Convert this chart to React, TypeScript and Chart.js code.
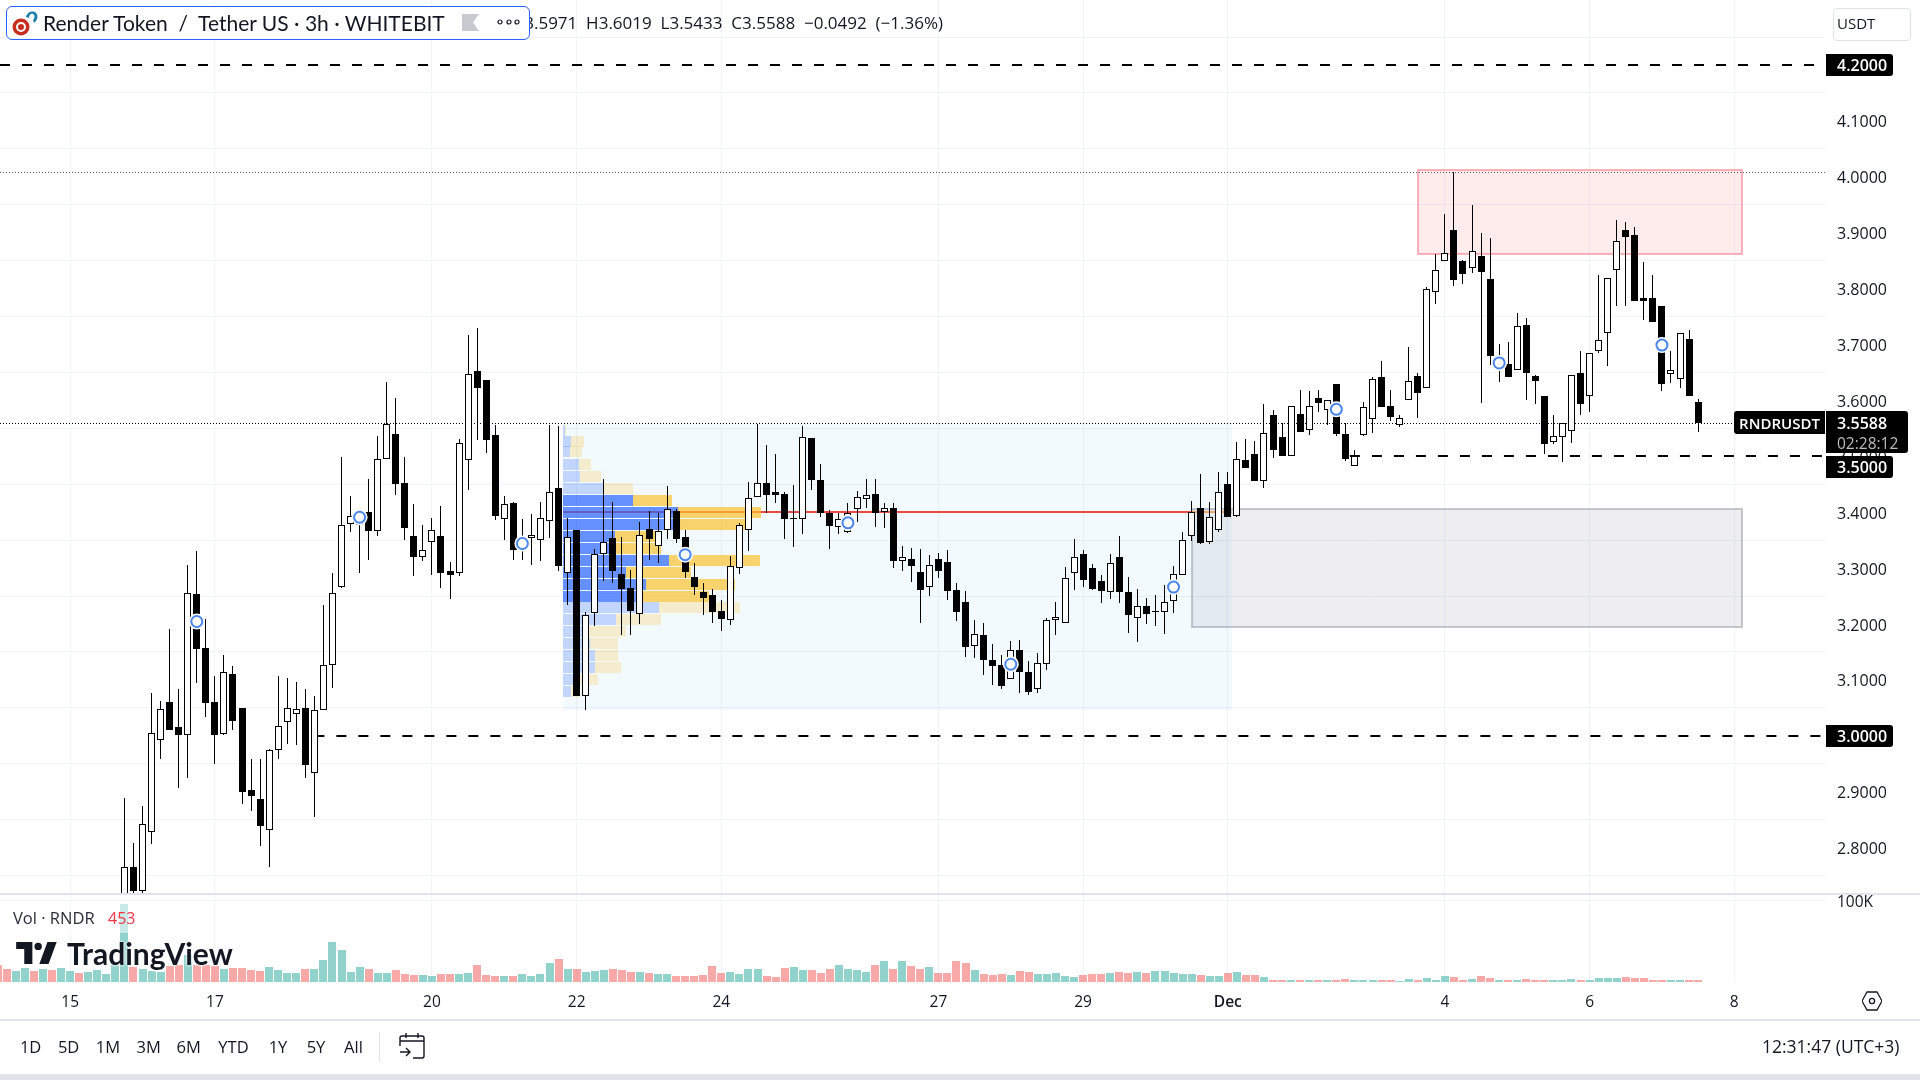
import React, { useEffect, useRef } from "react";
import { Chart, registerables } from "chart.js";

Chart.register(...registerables);

const FONT = '"Open Sans", sans-serif';
const TITLE_FONT = 'Lato, "Open Sans", sans-serif';

// index of the first candle that is visible, counted in 3h bars from 15 Nov 00:00
const firstCandle = 6;
const firstVolume = -8;

const opens = [
  2.690,2.765,2.723,2.828,2.992,3.061,3.016,3.001,3.253,3.157,
  3.061,3.004,3.111,3.050,2.903,2.887,2.831,2.974,3.024,3.039,
  3.050,2.933,3.046,3.126,3.267,3.378,3.377,3.400,3.367,3.496,
  3.540,3.452,3.357,3.319,3.347,3.357,3.295,3.291,3.493,3.653,
  3.637,3.538,3.387,3.417,3.335,3.354,3.350,3.384,3.443,3.291,
  3.368,3.072,3.219,3.325,3.354,3.290,3.264,3.217,3.370,3.340,
  3.369,3.402,3.356,3.284,3.257,3.252,3.223,3.208,3.301,3.369,
  3.427,3.452,3.436,3.433,3.389,3.388,3.533,3.458,3.399,3.373,
  3.365,3.405,3.423,3.433,3.400,3.408,3.312,3.316,3.293,3.266,
  3.316,3.311,3.261,3.239,3.160,3.180,3.136,3.127,3.102,3.154,
  3.114,3.083,3.129,3.208,3.201,3.292,3.326,3.300,3.277,3.258,
  3.320,3.258,3.211,3.232,3.223,3.222,3.242,3.288,3.358,3.407,
  3.347,3.369,3.451,3.394,3.493,3.504,3.455,3.573,3.535,3.500,
  3.576,3.547,3.605,3.583,3.630,3.540,3.483,3.538,3.567,3.642,
  3.590,3.556,3.601,3.644,3.622,3.794,3.849,3.904,3.850,3.837,
  3.858,3.818,3.658,3.666,3.654,3.734,3.644,3.608,3.525,3.534,
  3.545,3.649,3.607,3.688,3.720,3.834,3.905,3.895,3.784,3.784,
  3.768,3.647,3.639,3.709,3.5971,
];
const highs = [
  2.888,2.808,2.875,3.077,3.063,3.191,3.084,3.306,3.330,3.209,
  3.107,3.144,3.125,3.050,2.959,2.959,2.977,3.107,3.104,3.097,
  3.084,3.072,3.234,3.292,3.499,3.429,3.404,3.459,3.536,3.633,
  3.604,3.499,3.415,3.377,3.390,3.411,3.311,3.531,3.717,3.730,
  3.637,3.556,3.429,3.418,3.388,3.397,3.418,3.556,3.554,3.389,
  3.368,3.222,3.334,3.459,3.418,3.356,3.297,3.383,3.402,3.399,
  3.447,3.406,3.368,3.309,3.273,3.263,3.243,3.322,3.381,3.454,
  3.558,3.520,3.504,3.436,3.449,3.554,3.533,3.486,3.404,3.399,
  3.417,3.438,3.459,3.459,3.417,3.417,3.340,3.336,3.334,3.323,
  3.327,3.332,3.273,3.259,3.208,3.202,3.165,3.145,3.170,3.171,
  3.134,3.148,3.211,3.239,3.302,3.352,3.332,3.307,3.288,3.326,
  3.357,3.284,3.263,3.247,3.252,3.270,3.304,3.365,3.420,3.468,
  3.418,3.472,3.472,3.526,3.531,3.527,3.594,3.583,3.560,3.590,
  3.619,3.616,3.619,3.601,3.630,3.560,3.511,3.598,3.642,3.671,
  3.619,3.574,3.696,3.649,3.802,3.862,3.934,4.008,3.852,3.950,
  3.900,3.891,3.701,3.705,3.757,3.748,3.646,3.608,3.574,3.559,
  3.645,3.689,3.685,3.825,3.819,3.923,3.920,3.911,3.848,3.825,
  3.768,3.689,3.720,3.726,3.6019,
];
const lows = [
  2.660,2.700,2.710,2.807,2.959,3.010,2.906,2.924,3.095,3.033,
  2.949,3.002,3.011,2.878,2.866,2.803,2.766,2.959,2.986,2.984,
  2.924,2.854,3.046,3.085,3.265,3.365,3.292,3.315,3.357,3.496,
  3.430,3.351,3.285,3.312,3.288,3.265,3.244,3.285,3.439,3.529,
  3.506,3.386,3.350,3.315,3.315,3.306,3.312,3.353,3.294,3.234,
  3.072,3.046,3.197,3.277,3.273,3.180,3.180,3.200,3.315,3.309,
  3.352,3.345,3.282,3.252,3.216,3.202,3.188,3.198,3.290,3.331,
  3.427,3.399,3.417,3.352,3.337,3.361,3.440,3.391,3.334,3.361,
  3.362,3.383,3.408,3.374,3.372,3.300,3.295,3.275,3.202,3.250,
  3.282,3.243,3.205,3.141,3.140,3.109,3.091,3.084,3.102,3.077,
  3.073,3.077,3.118,3.180,3.201,3.261,3.266,3.261,3.238,3.245,
  3.238,3.184,3.168,3.200,3.196,3.182,3.220,3.288,3.349,3.343,
  3.343,3.365,3.391,3.391,3.479,3.456,3.444,3.497,3.500,3.500,
  3.543,3.539,3.580,3.556,3.537,3.491,3.483,3.536,3.542,3.589,
  3.564,3.553,3.601,3.568,3.622,3.773,3.849,3.805,3.809,3.828,
  3.596,3.664,3.633,3.641,3.654,3.601,3.594,3.505,3.522,3.490,
  3.524,3.574,3.580,3.685,3.662,3.769,3.768,3.777,3.744,3.741,
  3.617,3.632,3.623,3.607,3.5433,
];
const closes = [
  2.765,2.723,2.842,3.005,3.048,3.010,3.001,3.255,3.156,3.058,
  3.002,3.114,3.027,2.899,2.893,2.838,2.974,3.017,3.049,3.048,
  2.947,3.046,3.126,3.256,3.377,3.393,3.401,3.367,3.496,3.557,
  3.451,3.372,3.320,3.332,3.369,3.292,3.288,3.523,3.648,3.623,
  3.530,3.394,3.414,3.333,3.352,3.360,3.389,3.436,3.303,3.355,
  3.072,3.216,3.325,3.346,3.295,3.263,3.223,3.360,3.352,3.366,
  3.405,3.352,3.293,3.266,3.247,3.222,3.209,3.303,3.377,3.425,
  3.452,3.431,3.431,3.388,3.389,3.534,3.458,3.399,3.375,3.387,
  3.398,3.427,3.430,3.399,3.407,3.312,3.319,3.304,3.261,3.305,
  3.295,3.259,3.222,3.159,3.182,3.136,3.125,3.089,3.153,3.114,
  3.078,3.130,3.208,3.212,3.282,3.319,3.279,3.263,3.259,3.310,
  3.257,3.216,3.233,3.218,3.223,3.239,3.289,3.350,3.400,3.345,
  3.391,3.437,3.391,3.495,3.479,3.456,3.542,3.511,3.500,3.590,
  3.543,3.590,3.596,3.601,3.540,3.496,3.500,3.588,3.638,3.589,
  3.571,3.568,3.635,3.613,3.799,3.833,3.864,3.815,3.827,3.867,
  3.829,3.679,3.676,3.641,3.733,3.649,3.635,3.522,3.536,3.559,
  3.645,3.594,3.685,3.708,3.819,3.885,3.893,3.777,3.778,3.741,
  3.630,3.654,3.720,3.607,3.5588,
];

// volume in thousands, from index -8 to 180
const volumes = [
  20.5,15.6,13.1,16.8,13.1,15.6,14.3,16.8,13.1,10.7,11.9,14.3,9.4,20.5,
  95.5,18.0,15.6,13.1,11.9,19.3,20.5,32.8,20.5,20.5,19.3,15.6,16.8,16.8,14.3,13.1,
  18.0,14.3,10.7,10.7,15.6,15.6,26.6,48.8,38.9,11.9,18.0,15.6,10.7,10.7,14.3,9.4,
  8.2,8.2,7.0,9.4,9.4,9.4,10.7,20.5,8.2,7.0,7.0,7.0,9.4,7.0,9.4,23.0,27.9,15.6,
  15.6,11.9,13.1,14.3,15.6,14.3,11.9,11.9,10.7,9.4,9.4,7.0,7.0,7.0,8.2,19.3,10.7,
  11.9,9.4,15.6,15.6,7.0,5.7,16.8,18.0,14.3,14.3,10.7,15.6,20.5,15.6,14.3,11.9,
  20.5,25.4,15.6,25.4,19.3,15.6,18.0,10.7,10.7,25.4,23.0,14.3,9.4,8.2,9.4,8.2,
  13.1,11.9,9.4,9.4,10.7,7.0,5.7,8.2,9.4,9.4,10.7,11.9,10.7,11.9,10.7,13.1,13.1,
  10.7,9.4,9.4,8.2,7.0,7.0,10.7,11.9,8.2,8.2,5.7,2.0,2.0,2.0,2.0,2.0,2.0,2.0,2.0,
  3.7,2.0,2.0,2.0,2.0,2.0,1.2,3.7,2.5,4.9,2.5,7.4,6.1,2.5,3.7,7.4,4.9,2.5,
  2.5,2.5,3.7,2.5,2.5,2.5,2.5,3.7,2.5,2.5,4.9,4.9,4.9,6.1,4.9,4.9,2.5,2.5,2.5,2.5,2.5,2.5,
];
const preCandleVolumeUp = [false,false,true,true,false,true,false,true,true,false,true,true,true,true];

const priceTicks = [2.8,2.9,3.0,3.1,3.2,3.3,3.4,3.5,3.6,3.7,3.8,3.9,4.0,4.1,4.2];
const volumeTicks = [100];
const timeTickPositions = [0,16,40,56,72,96,112,128,152,168,184];
const timeTickLabels = ["15","17","20","22","24","27","29","Dec","4","6","8"];

const markerIndexes = [14,32,50,68,86,104,122,140,158,176];
const markerPrices = [3.2045,3.391,3.344,3.324,3.381,3.128,3.266,3.584,3.667,3.699];

// volume profile rows
const profileLeft = 54.49;
const profileRight = 128.43;
const profilePrices = [3.547,3.527,3.508,3.486,3.464,3.443,3.421,3.400,3.378,3.357,3.335,3.314,3.292,3.271,3.250,3.230,3.208,3.187,3.165,3.144,3.123,3.101,3.080];
const profileUp = [0.22,0.88,0.77,1.77,1.88,4.53,7.74,12.72,12.94,5.75,5.75,11.72,6.97,9.18,8.85,10.62,5.86,2.88,2.99,3.54,3.54,1.88,0.88];
const profileTotal = [0.33,2.32,2.10,3.10,4.20,7.74,12.05,21.89,20.13,10.73,10.84,21.78,14.15,19.02,16.14,19.57,10.84,6.97,6.08,6.08,6.41,3.87,1.88];
const profileValueAreaRows = [6,14]; // first and last row of the value area
const pocPrice = 3.4;
const profileBoxPrices = [3.5588, 3.046];

const supplyZone = { x0: 149, x1: 184.9, top: 4.013, bottom: 3.862 };
const demandZone = { x0: 124, x1: 184.9, top: 3.406, bottom: 3.195 };

const xMin = -7.76;
const xMax = 194.03;
const dashedLevels = [
  { price: 4.2, from: xMin },
  { price: 3.0, from: 27 },
  { price: 3.5, from: 141.5 },
];
const lastPrice = 3.5588;
const sessionHigh = 4.008;

function candleRows() {
  return opens.map((o, k) => ({
    i: firstCandle + k, o, h: highs[k], l: lows[k], c: closes[k],
  }));
}

const snapPlugin = {
  id: "snap",
  afterDatasetsUpdate(chart: any) {
    chart.data.datasets.forEach((ds: any, di: number) => {
      const meta = chart.getDatasetMeta(di);
      meta.data.forEach((el: any) => {
        if (ds.snap === "candle") {
          el.x = Math.floor(el.x) + 0.5;
          let y = Math.round(el.y);
          let b = Math.round(el.base);
          if (y === b) b = y + 1;
          el.y = y;
          el.base = b;
        } else if (ds.snap === "volume") {
          el.x = Math.round(el.x);
          el.y = Math.round(el.y);
          el.base = Math.round(el.base);
        } else if (ds.snap === "row") {
          el.y = Math.floor(el.y) + 0.5;
        } else if (ds.snap === "thin") {
          el.y = Math.floor(el.y) + 0.5;
        } else if (ds.snap === "thick") {
          el.y = Math.round(el.y);
        }
      });
    });
  },
};

const zonesPlugin = {
  id: "zones",
  beforeDatasetsDraw(chart: any) {
    const { ctx } = chart;
    const x = chart.scales.x;
    const y = chart.scales.y;
    const box = (x0: number, x1: number, top: number, bottom: number, fill: string, stroke?: string) => {
      const l = Math.round(x.getPixelForValue(x0));
      const r = Math.round(x.getPixelForValue(x1));
      const t = Math.round(y.getPixelForValue(top));
      const b = Math.round(y.getPixelForValue(bottom));
      ctx.save();
      ctx.fillStyle = fill;
      ctx.fillRect(l, t, r - l, b - t);
      if (stroke) {
        ctx.strokeStyle = stroke;
        ctx.lineWidth = 2;
        ctx.strokeRect(l, t, r - l, b - t);
      }
      ctx.restore();
    };
    box(profileLeft, profileRight, profileBoxPrices[0], profileBoxPrices[1], "rgba(33,170,243,0.06)");
    box(demandZone.x0, demandZone.x1, demandZone.top, demandZone.bottom, "rgba(120,123,140,0.13)", "rgba(120,123,134,0.4)");
    box(supplyZone.x0, supplyZone.x1, supplyZone.top, supplyZone.bottom, "rgba(242,54,69,0.1)", "rgba(242,54,69,0.36)");
  },
};

const tagsPlugin = {
  id: "tags",
  afterDraw(chart: any) {
    const { ctx } = chart;
    const y = chart.scales.y;
    const tag = (l: number, t: number, w: number, h: number) => {
      ctx.beginPath();
      ctx.roundRect(l, t, w, h, [0, 3, 3, 0]);
      ctx.fill();
    };
    ctx.save();
    ctx.textBaseline = "middle";
    ctx.font = `600 16px ${FONT}`;
    dashedLevels.forEach((lv) => {
      const shift = lv.price === 3.5 ? 11 : 0;
      const c = Math.round(y.getPixelForValue(lv.price)) + shift;
      ctx.fillStyle = "#000";
      tag(1826, c - 11, 67, 22);
      ctx.fillStyle = "#fff";
      ctx.textAlign = "left";
      ctx.fillText(lv.price.toFixed(4), 1837, c + 1.5);
    });
    const c = Math.round(y.getPixelForValue(lastPrice));
    ctx.fillStyle = "#000";
    ctx.beginPath();
    ctx.roundRect(1734, c - 12, 91, 23, [3, 0, 0, 3]);
    ctx.fill();
    tag(1826, c - 12, 82, 42);
    ctx.fillStyle = "#fff";
    ctx.textAlign = "center";
    ctx.font = `600 15px ${FONT}`;
    ctx.fillText("RNDRUSDT", 1779.5, c + 1.5);
    ctx.font = `600 16px ${FONT}`;
    ctx.textAlign = "left";
    ctx.fillText(lastPrice.toFixed(4), 1837, c + 1.5);
    ctx.font = `400 15.5px ${FONT}`;
    ctx.fillStyle = "#bdbdbd";
    ctx.fillText("02:28:12", 1837, c + 21.5);
    ctx.restore();
  },
};

function Label({ x, y, children, size = 15, color = "#131722", center = false, weight = 400, font = FONT, halo = false }: any) {
  return (
    <span
      style={{
        position: "absolute",
        left: x,
        top: y,
        transform: center ? "translate(-50%,-50%)" : "translateY(-50%)",
        fontFamily: font,
        fontSize: size,
        fontWeight: weight,
        color,
        whiteSpace: "pre",
        lineHeight: 1,
        textShadow: halo ? "0 0 3px #fff, 0 0 3px #fff" : undefined,
      }}
    >
      {children}
    </span>
  );
}

export default function App() {
  const ref = useRef<HTMLCanvasElement | null>(null);

  useEffect(() => {
    const rows = candleRows();
    const up = (o: number, c: number) => c >= o;
    const volUp = volumes.map((_, k) => {
      const i = firstVolume + k;
      if (i < firstCandle) return preCandleVolumeUp[k];
      return up(opens[i - firstCandle], closes[i - firstCandle]);
    });
    const inArea = (r: number) => r >= profileValueAreaRows[0] && r <= profileValueAreaRows[1];

    const datasets: any[] = [
      {
        type: "line", order: 12, yAxisID: "y", xAxisID: "x",
        data: [{ x: profileLeft, y: pocPrice }, { x: demandZone.x0, y: pocPrice }],
        borderColor: "#ec4a42", borderWidth: 2, pointRadius: 0, snap: "thick",
      },
      {
        type: "line", order: 12, yAxisID: "y", xAxisID: "x",
        data: [{ x: demandZone.x0, y: pocPrice }, { x: profileRight, y: pocPrice }],
        borderColor: "#eda76b", borderWidth: 2, pointRadius: 0, snap: "thick",
      },
      {
        type: "bar", order: 11, indexAxis: "y", grouped: false, xAxisID: "x", yAxisID: "y",
        data: profilePrices.map((p, r) => ({ y: p, x: [profileLeft + profileUp[r], profileLeft + profileTotal[r]] })),
        backgroundColor: profilePrices.map((_, r) => (inArea(r) ? "rgba(251,192,45,0.7)" : "rgba(251,192,45,0.24)")),
        barThickness: 11, inflateAmount: 0, borderSkipped: false, snap: "row",
      },
      {
        type: "bar", order: 10, indexAxis: "y", grouped: false, xAxisID: "x", yAxisID: "y",
        data: profilePrices.map((p, r) => ({ y: p, x: [profileLeft, profileLeft + profileUp[r]] })),
        backgroundColor: profilePrices.map((_, r) => (inArea(r) ? "rgba(41,98,255,0.7)" : "rgba(41,98,255,0.24)")),
        barThickness: 11, inflateAmount: 0, borderSkipped: false, snap: "row",
      },
      ...dashedLevels.map((lv) => ({
        type: "line", order: 8, yAxisID: "y", xAxisID: "x",
        data: [{ x: lv.from, y: lv.price }, { x: xMax, y: lv.price }],
        borderColor: "#000", borderWidth: 2, borderDash: [10, 12], pointRadius: 0, snap: "thick",
      })),
      {
        type: "line", order: 7, yAxisID: "y", xAxisID: "x",
        data: [{ x: xMin, y: lastPrice }, { x: xMax, y: lastPrice }],
        borderColor: "#000", borderWidth: 1, borderDash: [1, 2], pointRadius: 0, snap: "thin",
      },
      {
        type: "line", order: 7, yAxisID: "y", xAxisID: "x",
        data: [{ x: xMin, y: sessionHigh }, { x: xMax, y: sessionHigh }],
        borderColor: "#555", borderWidth: 1, borderDash: [1, 2], pointRadius: 0, snap: "thin",
      },
      {
        type: "bar", order: 6, grouped: false, xAxisID: "x", yAxisID: "vol",
        data: volumes.map((v, k) => ({ x: firstVolume + k, y: v })),
        backgroundColor: volUp.map((u) => (u ? "rgba(38,166,154,0.5)" : "rgba(239,83,80,0.5)")),
        barThickness: 8, inflateAmount: 0, borderSkipped: false, snap: "volume",
      },
      {
        type: "bar", order: 5, grouped: false, xAxisID: "x", yAxisID: "y",
        data: rows.map((r) => ({ x: r.i, y: [r.l, r.h] })),
        backgroundColor: "#000", barThickness: 1, inflateAmount: 0, borderSkipped: false, snap: "candle",
      },
      {
        type: "bar", order: 4, grouped: false, xAxisID: "x", yAxisID: "y",
        data: rows.map((r) => ({ x: r.i, y: [Math.min(r.o, r.c), Math.max(r.o, r.c)] })),
        backgroundColor: rows.map((r) => (r.c > r.o ? "#fff" : "#000")),
        borderColor: "#000", borderWidth: 1, barThickness: 7, inflateAmount: 0, borderSkipped: false, snap: "candle",
      },
      {
        type: "line", order: 3, showLine: false, xAxisID: "x", yAxisID: "y",
        data: markerIndexes.map((i, k) => ({ x: i, y: markerPrices[k] })),
        pointRadius: 8, pointBorderWidth: 0, pointBackgroundColor: "#fff",
      },
      {
        type: "line", order: 2, showLine: false, xAxisID: "x", yAxisID: "y",
        data: markerIndexes.map((i, k) => ({ x: i, y: markerPrices[k] })),
        pointRadius: 5.5, pointBorderWidth: 2, pointBackgroundColor: "#fff", pointBorderColor: "#4a86f0",
      },
    ];

    const chart = new Chart(ref.current as HTMLCanvasElement, {
      type: "bar",
      data: { datasets },
      plugins: [snapPlugin, zonesPlugin, tagsPlugin],
      options: {
        animation: false,
        responsive: false,
        events: [],
        layout: { autoPadding: false, padding: { top: 0, left: 0, right: 0, bottom: 60 } },
        plugins: { legend: { display: false }, tooltip: { enabled: false } },
        scales: {
          x: {
            type: "linear", axis: "x", min: xMin, max: xMax, offset: false, position: "bottom",
            grid: { color: "#f0f3fa", offset: false, drawTicks: false },
            border: { display: false },
            afterBuildTicks: (s: any) => { s.ticks = timeTickPositions.map((value) => ({ value })); },
            afterFit: (s: any) => { s.height = 38; s.paddingLeft = 0; s.paddingRight = 0; },
            ticks: {
              autoSkip: false, maxRotation: 0, padding: 11, color: "#131722",
              font: (c: any) => ({ family: FONT, size: 15.5, weight: c.tick && c.tick.label === "Dec" ? "600" : "400" }),
              callback: (_: any, idx: number) => timeTickLabels[idx],
            },
          },
          y: {
            type: "linear", axis: "y", position: "right", stack: "panes", stackWeight: 894,
            min: 2.717, max: 4.31628, offset: false,
            grid: { color: "#f0f3fa", drawTicks: false },
            border: { display: false },
            afterBuildTicks: (s: any) => { s.ticks = priceTicks.map((value) => ({ value })); },
            afterFit: (s: any) => { s.width = 95; s.paddingTop = 0; s.paddingBottom = 0; },
            ticks: {
              autoSkip: false, padding: 12, crossAlign: "near", color: "#131722", labelOffset: 2,
              font: { family: FONT, size: 16 },
              callback: (v: any) => Number(v).toFixed(4),
            },
          },
          vol: {
            type: "linear", axis: "y", position: "right", stack: "panes", stackWeight: 88,
            min: 0, max: 107.7, offset: false,
            grid: { color: "#f0f3fa", drawTicks: false },
            border: { display: false },
            afterBuildTicks: (s: any) => { s.ticks = volumeTicks.map((value) => ({ value })); },
            afterFit: (s: any) => { s.width = 95; s.paddingTop = 0; s.paddingBottom = 0; },
            ticks: {
              autoSkip: false, padding: 12, crossAlign: "near", color: "#131722", labelOffset: 2,
              font: { family: FONT, size: 15.5 },
              callback: (v: any) => `${v}K`,
            },
          },
        },
      } as any,
    } as any);
    return () => chart.destroy();
  }, []);

  const rule = (top: number, h: number) => (
    <div style={{ position: "absolute", left: 0, top, width: 1920, height: h, background: "#e0e3eb" }} />
  );

  return (
    <div style={{ position: "fixed", left: 0, top: 0, width: 1920, height: 1080, overflow: "hidden", background: "#fff" }}>
      <canvas ref={ref} width={1920} height={1080} style={{ position: "absolute", left: 0, top: 0, width: 1920, height: 1080 }} />
      {rule(893, 2)}
      {rule(1019, 2)}
      {rule(1074, 6)}

      {/* header */}
      <Label x={511} y={22} size={17} color="#131722">O3.5971  H3.6019  L3.5433  C3.5588  −0.0492  (−1.36%)</Label>
      <div style={{ position: "absolute", left: 6, top: 6, width: 522, height: 32, border: "1.5px solid #2962ff", borderRadius: 6, background: "#fff" }} />
      <svg style={{ position: "absolute", left: 10, top: 9 }} width={30} height={28} viewBox="0 0 30 28">
        <path d="M16 8 C17 3 23 1 26 4 C29 7 27 12 24 14 L23 11 C25 9 25 6 23 5 C21 4 19 6 19 9 Z" fill="#1d7ea8" />
        <circle cx={11} cy={18} r={8.5} fill="#c7301f" />
        <circle cx={11} cy={18} r={4} fill="none" stroke="#fff" strokeWidth={2} />
      </svg>
      <Label x={43} y={22} size={21} font={TITLE_FONT}>Render Token  /  Tether US · 3h · WHITEBIT</Label>
      <svg style={{ position: "absolute", left: 462, top: 14 }} width={17} height={17} viewBox="0 0 17 17">
        <path d="M0 0 H17 L11 8.5 L17 17 H0 Z" fill="#c8cad0" />
      </svg>
      <svg style={{ position: "absolute", left: 496, top: 17 }} width={26} height={10} viewBox="0 0 26 10">
        {[4, 13, 21].map((cx) => <circle key={cx} cx={cx} cy={5} r={2} fill="none" stroke="#131722" strokeWidth={1.2} />)}
      </svg>
      <div style={{ position: "absolute", left: 1833, top: 8, width: 76, height: 31, border: "1px solid #e0e3eb", borderRadius: 4 }} />
      <Label x={1837} y={23} size={15}>USDT</Label>

      {/* volume legend */}
      <div style={{ position: "absolute", left: 8, top: 904, width: 130, height: 29, background: "rgba(255,255,255,0.5)" }} />
      <Label x={13} y={918} size={16.5} color="#2a2e39">Vol · RNDR</Label>
      <Label x={108} y={918} size={16} color="#f23645">453</Label>
      <svg style={{ position: "absolute", left: 16, top: 942 }} width={42} height={22} viewBox="0 0 36 19">
        <path d="M14 0H0v6h7v13h7V0zm14 19h-8l7-19h8l-7 19zm-9-12a3.2 3.2 0 1 0 0-6.4 3.2 3.2 0 0 0 0 6.4z" fill="#131722" />
      </svg>
      <Label x={67} y={953} size={30} weight={700} font={'Lato, sans-serif'} halo>TradingView</Label>

      {/* footer */}
      {[["1D", 30.6], ["5D", 68.6], ["1M", 108], ["3M", 148.6], ["6M", 188.6], ["YTD", 233.5], ["1Y", 278], ["5Y", 316], ["All", 353.5]].map(([t, x]) => (
        <Label key={t as string} x={x} y={1047} center size={16.5}>{t}</Label>
      ))}
      <div style={{ position: "absolute", left: 379, top: 1032, width: 1, height: 30, background: "#e0e3eb" }} />
      <svg style={{ position: "absolute", left: 399, top: 1033 }} width={26} height={26} viewBox="0 0 26 26" fill="none" stroke="#131722" strokeWidth={1.4}>
        <path d="M1 13V5a2 2 0 0 1 2-2h20a2 2 0 0 1 2 2v18a2 2 0 0 1-2 2H14" />
        <path d="M1 8h24M7 0v5M19 0v5" />
        <path d="M1 19h10M7 15l4 4-4 4" />
      </svg>
      <Label x={1762} y={1047} size={17.5}>12:31:47 (UTC+3)</Label>
      <svg style={{ position: "absolute", left: 1862, top: 991 }} width={20} height={20} viewBox="0 0 20 20" fill="none" stroke="#131722" strokeWidth={1.3}>
        <path d="M5 1h10l5 9-5 9H5l-5-9z" />
        <circle cx={10} cy={10} r={2.6} />
      </svg>
    </div>
  );
}
